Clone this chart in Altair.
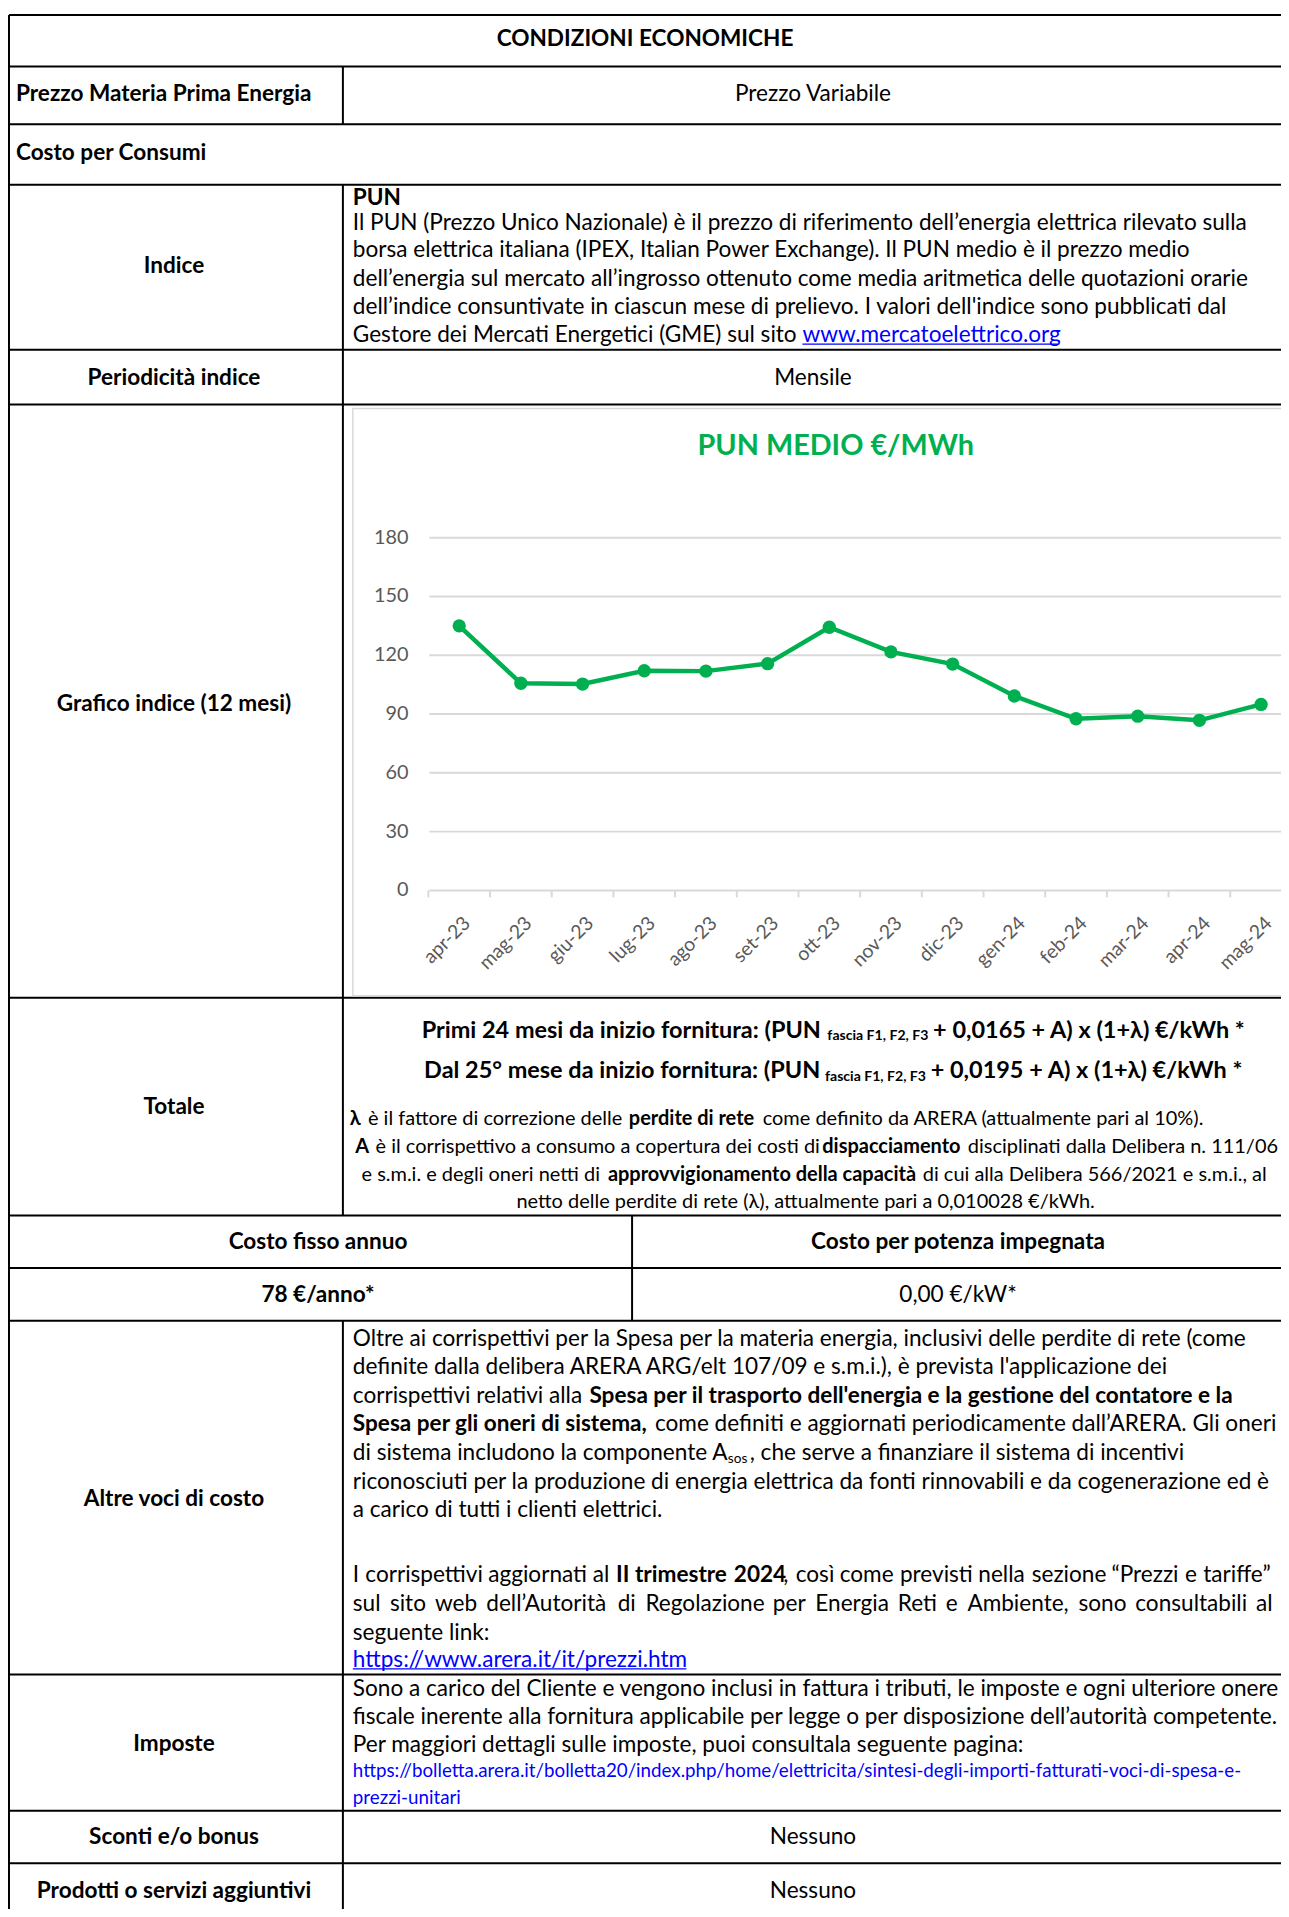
import altair as alt
import pandas as pd

# ---------------- chart data ----------------
MONTHS = ["apr-23", "mag-23", "giu-23", "lug-23", "ago-23", "set-23", "ott-23",
          "nov-23", "dic-23", "gen-24", "feb-24", "mar-24", "apr-24", "mag-24"]
PUN_MEDIO = [135.0, 105.7, 105.3, 112.1, 111.9, 115.7, 134.3,
             121.7, 115.5, 99.2, 87.6, 88.9, 86.8, 94.9]
Y_TICKS = [0, 30, 60, 90, 120, 150, 180]
CHART_TITLE = "PUN MEDIO €/MWh"

# ---------------- table texts ----------------
TABLE_TITLE = "CONDIZIONI ECONOMICHE"
LEFT_LABELS = ["Prezzo Materia Prima Energia", "Costo per Consumi", "Indice",
               "Periodicità indice", "Grafico indice (12 mesi)", "Totale",
               "Altre voci di costo", "Imposte", "Sconti e/o bonus",
               "Prodotti o servizi aggiuntivi"]
RIGHT_VALUES = ["Prezzo Variabile", "Mensile", "Nessuno", "Nessuno"]
COST_HEADERS = ["Costo fisso annuo", "Costo per potenza impegnata"]
COST_VALUES = ["78 €/anno*", "0,00 €/kW*"]

INDICE_LINES = [
    [("PUN", "b")],
    [("Il PUN (Prezzo Unico Nazionale) è il prezzo di riferimento dell’energia elettrica rilevato sulla", "r")],
    [("borsa elettrica italiana (IPEX, Italian Power Exchange). Il PUN medio è il prezzo medio", "r")],
    [("dell’energia sul mercato all’ingrosso ottenuto come media aritmetica delle quotazioni orarie", "r")],
    [("dell’indice consuntivate in ciascun mese di prelievo. I valori dell'indice sono pubblicati dal", "r")],
    [("Gestore dei Mercati Energetici (GME) sul sito ", "r"), ("www.mercatoelettrico.org", "link")],
]
TOTALE_LINES = [
    [("Primi 24 mesi da inizio fornitura: (PUN ", "bt"), ("fascia F1, F2, F3", "subb"),
     (" + 0,0165 + A) x (1+λ) €/kWh *", "bt")],
    [("Dal 25° mese da inizio fornitura: (PUN ", "bt"), ("fascia F1, F2, F3", "subb"),
     (" + 0,0195 + A) x (1+λ) €/kWh *", "bt")],
    [("λ", "bs"), (" è il fattore di correzione delle ", "rs"), ("perdite di rete", "bs"),
     (" come definito da ARERA (attualmente pari al 10%).", "rs")],
    [("A", "bs"), (" è il corrispettivo a consumo a copertura dei costi di ", "rs"),
     ("dispacciamento", "bs"), (" disciplinati dalla Delibera n. 111/06", "rs")],
    [("e s.m.i. e degli oneri netti di ", "rs"), ("approvvigionamento della capacità", "bs"),
     (" di cui alla Delibera 566/2021 e s.m.i., al", "rs")],
    [("netto delle perdite di rete (λ), attualmente pari a 0,010028 €/kWh.", "rs")],
]
ALTRE_LINES = [
    [("Oltre ai corrispettivi per la Spesa per la materia energia, inclusivi delle perdite di rete (come", "r")],
    [("definite dalla delibera ARERA ARG/elt 107/09 e s.m.i.), è prevista l'applicazione dei", "r")],
    [("corrispettivi relativi alla ", "r"), ("Spesa per il trasporto dell'energia e la gestione del contatore e la", "b")],
    [("Spesa per gli oneri di sistema,", "b"), (" come definiti e aggiornati periodicamente dall’ARERA. Gli oneri", "r")],
    [("di sistema includono la componente A", "r"), ("sos", "subr"), (", che serve a finanziare il sistema di incentivi", "r")],
    [("riconosciuti per la produzione di energia elettrica da fonti rinnovabili e da cogenerazione ed è", "r")],
    [("a carico di tutti i clienti elettrici.", "r")],
    [("I corrispettivi aggiornati al ", "r"), ("II trimestre 2024", "b"),
     (", così come previsti nella sezione “Prezzi e tariffe”", "r")],
    [("sul sito web dell’Autorità di Regolazione per Energia Reti e Ambiente, sono consultabili al", "r")],
    [("seguente link:", "r")],
    [("https://www.arera.it/it/prezzi.htm", "link")],
]
IMPOSTE_LINES = [
    [("Sono a carico del Cliente e vengono inclusi in fattura i tributi, le imposte e ogni ulteriore onere", "r")],
    [("fiscale inerente alla fornitura applicabile per legge o per disposizione dell’autorità competente.", "r")],
    [("Per maggiori dettagli sulle imposte, puoi consultala seguente pagina:", "r")],
    [("https://bolletta.arera.it/bolletta20/index.php/home/elettricita/sintesi-degli-importi-fatturati-voci-di-spesa-e-", "url")],
    [("prezzi-unitari", "url")],
]

# ---------------- layout (page pixels) ----------------
OFF = 8                 # page margin
W, H = 1281, 1901
FONT = "Lato"
K = 0.944               # size factor so the substitute font keeps the reference widths
JOIN_GAP = 3.0
EXTRA_GAP = {"link": 4.5, "subb": 3.0, "subr": 1.0}
BOLD_F = 1.02
BLACK, BLUE, GREEN, GREY = "#000000", "#0000FF", "#00B050", "#595959"

X_L, X_C, X_S, X_R = 9, 345, 636, 1300
H_LINES = [9, 61, 119, 180, 346, 401, 998, 1217, 1270, 1323, 1679, 1816, 1869]
V_LINES = [(X_L, 9, 1917), (X_C, 61, 119), (X_C, 180, 1217), (X_C, 1323, 1917), (X_S, 1217, 1323)]

LEFT_LABEL_POS = [(16, 89, "left"), (16, 148, "left"), (175, 262, "center"), (175, 374, "center"),
                  (175, 702, "center"), (175, 1108, "center"), (175, 1502, "center"),
                  (175, 1749, "center"), (175, 1843, "center"), (175, 1897, "center")]
RIGHT_VALUE_POS = [(818, 89), (818, 374), (818, 1843), (818, 1897)]
COST_HEADER_POS = [(320, 1244), (964, 1244)]
COST_VALUE_POS = [(320, 1297, "bold"), (964, 1297, "normal")]

INDICE_X0, INDICE_Y = 355, [193, 218, 246, 274.5, 303, 331]
TOTALE_POS = [dict(cx=835, y=1031), dict(cx=835, y=1072), dict(x0=352, y=1120),
              dict(cx=818, y=1148), dict(cx=815.5, y=1176), dict(cx=808, y=1204)]
ALTRE_X0, ALTRE_Y = 355, [1341, 1370, 1399, 1427, 1456, 1485, 1514, 1579, 1608, 1637, 1664]
ALTRE_JUSTIFY = {7: 1281, 8: 1281}
IMPOSTE_X0, IMPOSTE_Y = 355, [1694, 1722, 1750, 1776, 1803]

# approximate advance widths (em) of the reference face
CAL = {' ': .226, '!': .326, '"': .401, "'": .221, '(': .303, ')': .303, '*': .498, '+': .498,
       ',': .250, '-': .306, '.': .252, '/': .386, ':': .268, ';': .268, '?': .463, '%': .715,
       '°': .342, '€': .507, '’': .250, '“': .418, '”': .418, 'λ': .48, '_': .498}
for d in "0123456789":
    CAL[d] = .507
for c, w in zip("ABCDEFGHIJKLMNOPQRSTUVWXYZ",
                [.579, .544, .533, .615, .488, .459, .631, .623, .252, .319, .520, .420, .855,
                 .646, .662, .517, .673, .543, .459, .487, .642, .567, .890, .519, .487, .468]):
    CAL[c] = w
for c, w in zip("abcdefghijklmnopqrstuvwxyz",
                [.479, .525, .423, .525, .498, .305, .471, .525, .229, .239, .455, .229, .799,
                 .525, .527, .525, .525, .349, .391, .335, .525, .452, .715, .433, .453, .395]):
    CAL[c] = w
for c, b in zip("èéàòùì", "eeaoui"):
    CAL[c] = CAL[b]


def em(text, bold):
    return sum(CAL.get(ch, 0.5) for ch in text) * (BOLD_F if bold else 1.0)


def line_em(segs):
    return sum(em(t, k.startswith("b")) for t, k in segs)


BODY = 891 / line_em(INDICE_LINES[1])          # measured width of a full body line
SMALL = 912 / line_em(TOTALE_LINES[3])         # measured width of the small "A è ..." line
URL_SIZE = 889 / em(IMPOSTE_LINES[3][0][0], False)

STYLE = {  # size, weight, color, vertical shift
    "r": (BODY, "normal", BLACK, 0), "b": (BODY, "bold", BLACK, 0),
    "bt": (25, "bold", BLACK, 0),
    "rs": (SMALL, "normal", BLACK, 0), "bs": (SMALL, "bold", BLACK, 0),
    "subb": (15, "bold", BLACK, 6), "subr": (14.5, "normal", BLACK, 6),
    "link": (BODY, "normal", BLUE, 0), "url": (URL_SIZE, "normal", BLUE, 0),
}

texts, underlines = [], []


def add_text(x, y, text, size, weight, color, align):
    texts.append(dict(x=x - OFF, y=y - OFF, text=text, size=size * K,
                      weight=weight, color=color, align=align))


def seg_w(text, kind):
    size, weight, _, _ = STYLE[kind]
    return em(text, weight == "bold") * size


def emit(x, y, text, kind):
    size, weight, color, shift = STYLE[kind]
    lead = len(text) - len(text.lstrip(" "))
    x += seg_w(text[:lead], kind)
    body = text.strip(" ")
    if not body:
        return
    add_text(x, y + shift, body, size, weight, color, "left")
    if kind == "link":
        underlines.append(dict(x1=x - OFF, x2=x + 0.985 * seg_w(body, kind) - OFF,
                               y=y + 0.3 * size * K + 2.5 - OFF))


def place(segs, y, x0=None, cx=None, x1=None):
    if x1 is not None:
        words = []
        for text, kind in segs:
            parts = text.split(" ")
            for j, p in enumerate(parts):
                if j > 0:
                    words.append((" ", kind))
                if p:
                    words.append((p, kind))
        natural = sum(seg_w(t, k) for t, k in words)
        nsp = sum(1 for t, _ in words if t == " ")
        extra = (x1 - x0 - natural) / max(nsp, 1)
        x = x0
        for t, k in words:
            if t == " ":
                x += seg_w(t, k) + extra
            else:
                emit(x, y, t, k)
                x += seg_w(t, k)
        return
    gaps = [0.0] + [JOIN_GAP + EXTRA_GAP.get(k, 0.0) for _, k in segs[1:]]
    total = sum(seg_w(t, k) for t, k in segs) + sum(gaps)
    x = x0 if x0 is not None else cx - total / 2
    for (t, k), g in zip(segs, gaps):
        x += g
        emit(x, y, t, k)
        x += seg_w(t, k)


add_text(649, 33, TABLE_TITLE, BODY, "bold", BLACK, "center")
for lab, (x, y, al) in zip(LEFT_LABELS, LEFT_LABEL_POS):
    add_text(x, y, lab, BODY, "bold", BLACK, al)
for val, (x, y) in zip(RIGHT_VALUES, RIGHT_VALUE_POS):
    add_text(x, y, val, BODY, "normal", BLACK, "center")
for val, (x, y) in zip(COST_HEADERS, COST_HEADER_POS):
    add_text(x, y, val, BODY, "bold", BLACK, "center")
for val, (x, y, wgt) in zip(COST_VALUES, COST_VALUE_POS):
    add_text(x, y, val, BODY, wgt, BLACK, "center")
for segs, y in zip(INDICE_LINES, INDICE_Y):
    place(segs, y, x0=INDICE_X0)
for segs, pos in zip(TOTALE_LINES, TOTALE_POS):
    place(segs, pos["y"], x0=pos.get("x0"), cx=pos.get("cx"))
for i, (segs, y) in enumerate(zip(ALTRE_LINES, ALTRE_Y)):
    place(segs, y, x0=ALTRE_X0, x1=ALTRE_JUSTIFY.get(i))
for segs, y in zip(IMPOSTE_LINES, IMPOSTE_Y):
    place(segs, y, x0=IMPOSTE_X0)

text_df = pd.DataFrame(texts)
h_df = pd.DataFrame({"y": [v - OFF for v in H_LINES], "x1": X_L - OFF, "x2": X_R - OFF})
v_df = pd.DataFrame({"x": [v[0] - OFF for v in V_LINES], "y1": [v[1] - OFF for v in V_LINES],
                     "y2": [v[2] - OFF for v in V_LINES]})
u_df = pd.DataFrame(underlines)

NOAX = dict(scale=None, axis=None)
h_rules = alt.Chart(h_df).mark_rule(color=BLACK, strokeWidth=2).encode(
    x=alt.X("x1:Q", **NOAX), x2="x2:Q", y=alt.Y("y:Q", **NOAX))
v_rules = alt.Chart(v_df).mark_rule(color=BLACK, strokeWidth=2).encode(
    x=alt.X("x:Q", **NOAX), y=alt.Y("y1:Q", **NOAX), y2="y2:Q")
u_rules = alt.Chart(u_df).mark_rule(color=BLUE, strokeWidth=1.3).encode(
    x=alt.X("x1:Q", **NOAX), x2="x2:Q", y=alt.Y("y:Q", **NOAX))

text_layers = []
for (wgt, al), grp in text_df.groupby(["weight", "align"]):
    text_layers.append(
        alt.Chart(grp.reset_index(drop=True)).mark_text(
            font=FONT, fontWeight=wgt, align=al, baseline="middle").encode(
            x=alt.X("x:Q", **NOAX), y=alt.Y("y:Q", **NOAX), text="text:N",
            size=alt.Size("size:Q", scale=None, legend=None),
            color=alt.Color("color:N", scale=None, legend=None)))

table_layer = alt.layer(h_rules, v_rules, u_rules, *text_layers)

# ---------------- embedded line chart ----------------
chart_df = pd.DataFrame({"month": MONTHS, "pun": PUN_MEDIO})
tick_df = pd.DataFrame({"v": Y_TICKS})
xs = alt.Scale(type="point", domain=MONTHS, range=[431 - OFF, 1300 - OFF], padding=0.5)
ys = alt.Scale(domain=[0, 180], range=[890 - OFF, 535 - OFF], nice=False)
STEP_HALF = (1300 - 431) / len(MONTHS) / 2

box = alt.Chart(pd.DataFrame({"k": [0]})).mark_rect(
    fill="white", stroke="#d9d9d9", strokeWidth=1.5).encode(
    x=alt.value(355 - OFF), x2=alt.value(1310 - OFF), y=alt.value(405 - OFF), y2=alt.value(996 - OFF))
grid = alt.Chart(tick_df).mark_rule(color="#d9d9d9", strokeWidth=2).encode(
    y=alt.Y("v:Q", scale=ys, axis=None), x=alt.value(432 - OFF), x2=alt.value(1300 - OFF))
y_labels = alt.Chart(tick_df).mark_text(
    align="right", baseline="middle", font=FONT, fontSize=20, color=GREY).encode(
    y=alt.Y("v:Q", scale=ys, axis=None), x=alt.value(411 - OFF), text="v:Q")
x_ticks = alt.Chart(chart_df).mark_rule(color="#d9d9d9", strokeWidth=2, xOffset=-STEP_HALF).encode(
    x=alt.X("month:N", scale=xs, axis=None), y=alt.value(890 - OFF), y2=alt.value(897 - OFF))
x_labels = alt.Chart(chart_df).mark_text(
    angle=315, align="right", baseline="middle", font=FONT, fontSize=19.5,
    color=GREY, xOffset=8).encode(
    x=alt.X("month:N", scale=xs, axis=None), y=alt.value(920 - OFF), text="month:N")
line = alt.Chart(chart_df).mark_line(color=GREEN, strokeWidth=4.5).encode(
    x=alt.X("month:N", scale=xs, axis=None), y=alt.Y("pun:Q", scale=ys, axis=None))
pts = alt.Chart(chart_df).mark_circle(color=GREEN, size=180, opacity=1).encode(
    x=alt.X("month:N", scale=xs, axis=None), y=alt.Y("pun:Q", scale=ys, axis=None))
title = alt.Chart(pd.DataFrame({"t": [CHART_TITLE]})).mark_text(
    font=FONT, fontSize=29, fontWeight="bold", color=GREEN, align="center", baseline="middle").encode(
    x=alt.value(841 - OFF), y=alt.value(443 - OFF), text="t:N")

chart_layer = alt.layer(box, grid, x_ticks, y_labels, x_labels, line, pts, title)

chart = alt.layer(table_layer, chart_layer).resolve_scale(
    x="independent", y="independent").properties(
    width=W, height=H, autosize=alt.AutoSizeParams(type="none"), padding=0,
    background="white").configure_view(stroke=None)

chart.save("out.html", embed_options={"renderer": "svg", "actions": False})
